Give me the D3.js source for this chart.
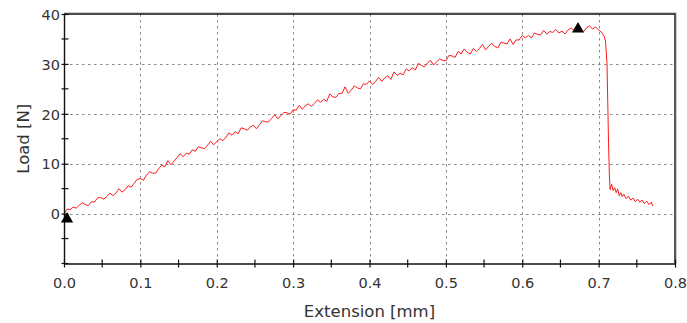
<!DOCTYPE html>
<html>
<head>
<meta charset="utf-8">
<script src="https://cdn.jsdelivr.net/npm/d3@7"></script>
<style>
  html, body { margin: 0; padding: 0; background: #fff; }
  svg { display: block; }
  text { font-family: "DejaVu Sans", Verdana, sans-serif; fill: #333; }
</style>
</head>
<body>
<svg id="chart" width="687" height="323"></svg>
<script>
// Tensile test record: extension (mm) against load (N)
const extension = [
  0.000, 0.004, 0.008, 0.012, 0.016, 0.020, 0.024, 0.028, 0.032, 0.036,
  0.040, 0.044, 0.048, 0.052, 0.056, 0.060, 0.064, 0.068, 0.072, 0.076,
  0.080, 0.084, 0.088, 0.092, 0.096, 0.100, 0.104, 0.108, 0.112, 0.116,
  0.120, 0.124, 0.128, 0.132, 0.136, 0.140, 0.144, 0.148, 0.152, 0.156,
  0.160, 0.164, 0.168, 0.172, 0.176, 0.180, 0.184, 0.188, 0.192, 0.196,
  0.200, 0.204, 0.208, 0.212, 0.216, 0.220, 0.224, 0.228, 0.232, 0.236,
  0.240, 0.244, 0.248, 0.252, 0.256, 0.260, 0.264, 0.268, 0.272, 0.276,
  0.280, 0.284, 0.288, 0.292, 0.296, 0.300, 0.304, 0.308, 0.312, 0.316,
  0.320, 0.324, 0.328, 0.332, 0.336, 0.340, 0.344, 0.348, 0.352, 0.356,
  0.360, 0.364, 0.368, 0.372, 0.376, 0.380, 0.384, 0.388, 0.392, 0.396,
  0.400, 0.404, 0.408, 0.412, 0.416, 0.420, 0.424, 0.428, 0.432, 0.436,
  0.440, 0.444, 0.448, 0.452, 0.456, 0.460, 0.464, 0.468, 0.472, 0.476,
  0.480, 0.484, 0.488, 0.492, 0.496, 0.500, 0.504, 0.508, 0.512, 0.516,
  0.520, 0.524, 0.528, 0.532, 0.536, 0.540, 0.544, 0.548, 0.552, 0.556,
  0.560, 0.564, 0.568, 0.572, 0.576, 0.580, 0.584, 0.588, 0.592, 0.596,
  0.600, 0.604, 0.608, 0.612, 0.616, 0.620, 0.624, 0.628, 0.632, 0.636,
  0.640, 0.644, 0.648, 0.652, 0.656, 0.660, 0.664, 0.668, 0.672, 0.676,
  0.680, 0.684, 0.688, 0.692, 0.696, 0.700, 0.704,
  0.707, 0.709, 0.711, 0.712, 0.713, 0.714, 0.715, 0.717, 0.719, 0.721,
  0.723, 0.725, 0.727, 0.729, 0.731, 0.733, 0.736, 0.739, 0.742, 0.745,
  0.748, 0.751, 0.754, 0.757, 0.760, 0.763, 0.766, 0.769, 0.771
];

const load = [
   0.0,  0.9,  0.8,  1.3,  1.1,  1.7,  2.2,  1.8,  1.6,  2.4,
   2.3,  3.2,  3.2,  2.9,  3.4,  4.1,  3.6,  4.1,  5.0,  4.3,
   4.8,  5.6,  5.3,  6.1,  6.9,  7.0,  6.7,  7.7,  8.4,  8.1,
   8.1,  9.0,  9.7,  9.4, 10.6,  9.8, 10.5, 11.2, 12.0, 11.4,
  12.1, 11.9, 12.8, 12.5, 13.4, 13.2, 13.0, 13.7, 14.5, 13.8,
  14.4, 15.0, 14.6, 15.3, 16.2, 15.7, 16.4, 16.0, 17.2, 17.0,
  16.7, 17.4, 17.7, 17.0, 17.8, 18.6, 18.4, 18.4, 19.1, 19.8,
  19.0, 19.6, 20.3, 20.2, 19.9, 20.8, 20.7, 21.7, 20.9, 21.6,
  22.0, 21.5, 22.1, 22.8, 22.3, 22.9, 22.5, 24.0, 23.4, 23.3,
  24.1, 24.1, 25.4, 24.1, 24.7, 25.6, 25.2, 25.0, 26.0, 25.9,
  26.6, 25.9, 26.5, 27.3, 26.5, 27.2, 27.6, 26.9, 28.4, 27.7,
  28.1, 27.8, 29.0, 28.6, 29.2, 28.8, 30.1, 29.7, 29.4, 30.2,
  30.7, 29.8, 30.4, 31.0, 30.7, 30.6, 31.7, 31.6, 31.3, 32.5,
  32.0, 33.0, 32.3, 32.0, 33.1, 32.5, 33.1, 33.9, 32.8, 33.5,
  34.1, 33.5, 33.2, 34.3, 34.2, 34.0, 35.0, 33.9, 34.8, 34.8,
  35.7, 35.2, 35.7, 35.2, 36.2, 35.9, 35.8, 36.7, 36.0, 36.5,
  36.3, 36.9, 36.2, 36.6, 36.0, 36.8, 37.2, 36.6, 37.1, 36.9,
  36.4, 37.2, 37.6, 37.0, 37.4, 36.8, 36.3,
  35.6, 34.6, 30.0, 22.0, 14.0,  8.0,  4.8,  5.9,  4.6,  5.2,
   4.2,  4.9,  3.6,  4.2,  3.4,  3.9,  3.0,  3.5,  2.7,  3.1,
   2.4,  2.9,  2.3,  2.7,  2.0,  2.5,  1.8,  2.3,  1.5
];

// Marked points: start of test and maximum load
const markerExtension = [0.004, 0.673];
const markerLoad = [-1.1, 37.0];

const xTicks = [0, 0.1, 0.2, 0.3, 0.4, 0.5, 0.6, 0.7, 0.8];
const xMinorTicks = [0.05, 0.15, 0.25, 0.35, 0.45, 0.55, 0.65, 0.75];
const yTicks = [0, 10, 20, 30, 40];
const yMinorTicks = [-5, 5, 15, 25, 35];
const xTitle = "Extension [mm]";
const yTitle = "Load [N]";

const svg = d3.select("#chart");
const plotLeft = 64, plotRight = 675, plotTop = 14, plotBottom = 263.5;

const x = d3.scaleLinear().domain([0, 0.8]).range([plotLeft, plotRight]);
const y = d3.scaleLinear().domain([-10, 40]).range([plotBottom, plotTop]);

// Dotted grid
const grid = svg.append("g").attr("stroke", "#8a8a8a").attr("stroke-width", 1)
  .attr("stroke-dasharray", "2.5,3.5");
grid.selectAll("line.v").data(xTicks.filter(d => d > 0 && d < 0.8)).join("line")
  .attr("class", "v")
  .attr("x1", d => Math.round(x(d)) + 0.5).attr("x2", d => Math.round(x(d)) + 0.5)
  .attr("y1", plotTop).attr("y2", plotBottom);
grid.selectAll("line.h").data(yTicks.filter(d => d < 40)).join("line")
  .attr("class", "h")
  .attr("x1", plotLeft).attr("x2", plotRight)
  .attr("y1", d => Math.round(y(d)) + 0.5).attr("y2", d => Math.round(y(d)) + 0.5);

// Frame: top and right edges
svg.append("path")
  .attr("d", `M${plotLeft},${plotTop - 1.5}H${plotRight + 1.5}V${plotBottom}`)
  .attr("fill", "none").attr("stroke", "#cfcfcf").attr("stroke-width", 1);
svg.append("path")
  .attr("d", `M${plotLeft},${plotTop}H${plotRight}V${plotBottom}`)
  .attr("fill", "none").attr("stroke", "#111").attr("stroke-width", 1.4);

// Load curve
const pts = extension.map((e, i) => [e, load[i]]);
svg.append("path")
  .datum(pts)
  .attr("fill", "none")
  .attr("stroke", "#ff1a1a")
  .attr("stroke-width", 1)
  .attr("stroke-linejoin", "round")
  .attr("d", d3.line().x(d => x(d[0])).y(d => y(d[1])));

// Axes with ticks crossing the axis line
function styleAxis(g, horizontal) {
  g.select(".domain").attr("stroke", "#111").attr("stroke-width", 1.4);
  g.selectAll(".tick line").attr("stroke", "#111").attr("stroke-width", 1.2);
  if (horizontal) g.selectAll(".tick line").attr("y1", -4).attr("y2", 4);
  else g.selectAll(".tick line").attr("x1", -2.5).attr("x2", 4.5);
}

const xAxis = svg.append("g").attr("transform", `translate(0,${plotBottom})`)
  .call(d3.axisBottom(x).tickValues(xTicks).tickSize(0).tickPadding(0)
    .tickFormat(d3.format(".1f")));
xAxis.call(g => styleAxis(g, true));
xAxis.selectAll(".tick text").attr("y", 24.5).attr("dy", 0)
  .style("font-size", "14.5px").style("font-family", "DejaVu Sans, Verdana, sans-serif")
  .attr("fill", "#333");
svg.append("g").attr("transform", `translate(0,${plotBottom})`)
  .selectAll("line").data(xMinorTicks).join("line")
  .attr("x1", d => x(d)).attr("x2", d => x(d))
  .attr("y1", -4).attr("y2", 4).attr("stroke", "#111").attr("stroke-width", 1.2);

const yAxis = svg.append("g").attr("transform", `translate(${plotLeft},0)`)
  .call(d3.axisLeft(y).tickValues(yTicks).tickSize(0).tickPadding(4)
    .tickFormat(d3.format("d")));
yAxis.call(g => styleAxis(g, false));
yAxis.selectAll(".tick text").attr("dy", "0.36em")
  .style("font-size", "14.5px").style("font-family", "DejaVu Sans, Verdana, sans-serif")
  .attr("fill", "#333");
svg.append("g").attr("transform", `translate(${plotLeft},0)`)
  .selectAll("line").data(yMinorTicks).join("line")
  .attr("y1", d => y(d)).attr("y2", d => y(d))
  .attr("x1", -2.5).attr("x2", 4.5).attr("stroke", "#111").attr("stroke-width", 1.2);
// closing tick at the bottom-left corner
svg.append("line").attr("x1", plotLeft - 2.5).attr("x2", plotLeft + 4.5)
  .attr("y1", y(-10)).attr("y2", y(-10)).attr("stroke", "#111").attr("stroke-width", 1.2);

// Markers
svg.append("g").selectAll("path").data(markerExtension.map((e, i) => [e, markerLoad[i]]))
  .join("path")
  .attr("d", d3.symbol().type(d3.symbolTriangle).size(64))
  .attr("transform", d => `translate(${x(d[0])},${y(d[1])})`)
  .attr("fill", "#000");

// Axis titles
svg.append("text")
  .attr("x", (plotLeft + plotRight) / 2).attr("y", 316.5)
  .attr("text-anchor", "middle")
  .style("font-size", "16.5px")
  .text(xTitle);
svg.append("text")
  .attr("transform", `translate(28.5,${(plotTop + plotBottom) / 2}) rotate(-90)`)
  .attr("text-anchor", "middle")
  .style("font-size", "16.5px")
  .text(yTitle);
</script>
</body>
</html>
